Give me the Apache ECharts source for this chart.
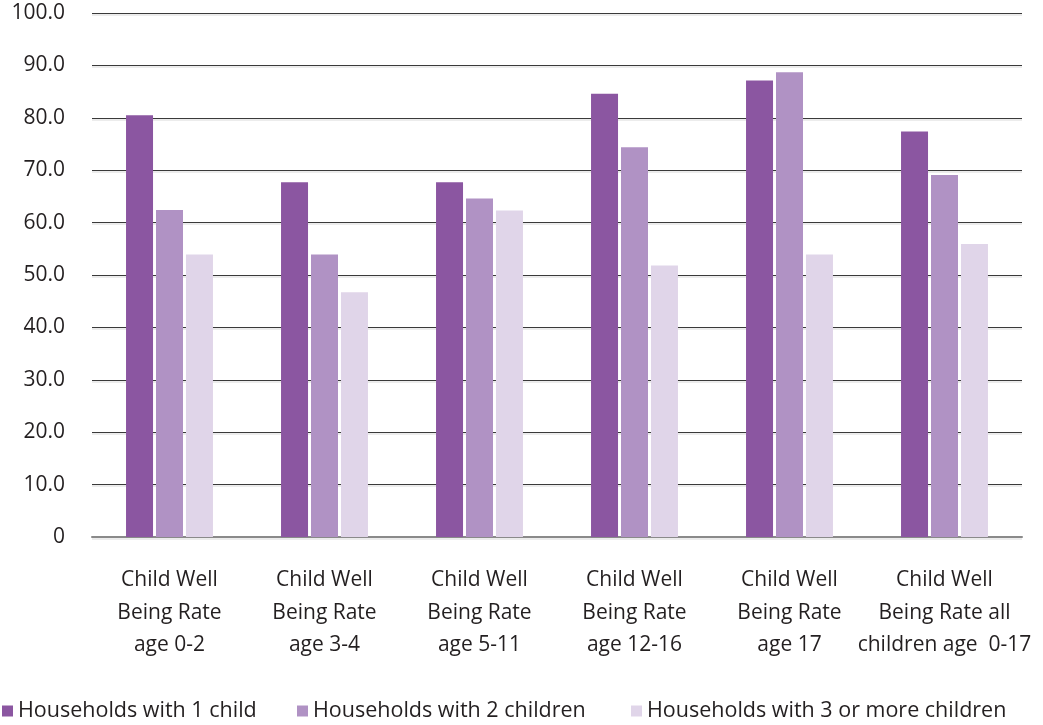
<!DOCTYPE html>
<html>
<head>
<meta charset="utf-8">
<title>Child Well Being Rate by household size</title>
<script src="https://cdn.jsdelivr.net/npm/echarts@6/dist/echarts.min.js"></script>
<style>
  html, body { margin: 0; padding: 0; background: #ffffff; }
  #chart { width: 1043px; height: 725px; }
</style>
</head>
<body>
<div id="chart"></div>
<script>
// Age groups shown along the x axis
const categories = [
  'Child Well\nBeing Rate\nage 0-2',
  'Child Well\nBeing Rate\nage 3-4',
  'Child Well\nBeing Rate\nage 5-11',
  'Child Well\nBeing Rate\nage 12-16',
  'Child Well\nBeing Rate\nage 17',
  'Child Well\nBeing Rate all\nchildren age  0-17'
];

// Series names
const seriesNames = [
  'Households with 1 child',
  'Households with 2 children',
  'Households with 3 or more children'
];

// Rates per household size (%)
const oneChild = [80.5, 67.7, 67.7, 84.6, 87.1, 77.4];
const twoChildren = [62.4, 53.9, 64.6, 74.4, 88.7, 69.1];
const threePlusChildren = [53.9, 46.7, 62.3, 51.8, 53.9, 55.9];

// Value axis tick labels, 0 to 100 in steps of 10
const yTickLabels = ['0', '10.0', '20.0', '30.0', '40.0', '50.0', '60.0', '70.0', '80.0', '90.0', '100.0'];

const colors = ['#8b56a1', '#b092c4', '#e0d5e9'];
const textColor = '#231f20';
const fontFamily = '"Open Sans", "Noto Sans", sans-serif';

const chart = echarts.init(document.getElementById('chart'), null, { renderer: 'canvas' });

function legendAt(name, left) {
  return {
    data: [name],
    left: left,
    top: 700,
    padding: 0,
    itemWidth: 11,
    itemHeight: 11,
    icon: 'rect',
    selectedMode: false,
    textStyle: { color: textColor, fontFamily: fontFamily, fontSize: 21.5, lineHeight: 22 }
  };
}

const seriesData = [oneChild, twoChildren, threePlusChildren];

chart.setOption({
  animation: false,
  color: colors,
  grid: { left: 92, right: 21, top: 13, bottom: 188, containLabel: false },
  legend: [
    legendAt(seriesNames[0], 2),
    legendAt(seriesNames[1], 297),
    legendAt(seriesNames[2], 631)
  ],
  xAxis: {
    type: 'category',
    data: categories,
    axisLine: { show: true, lineStyle: { color: '#8a8a8a', width: 2 } },
    axisTick: { show: false },
    axisLabel: {
      interval: 0,
      margin: 27,
      color: textColor,
      fontFamily: fontFamily,
      fontSize: 21,
      lineHeight: 32.5,
      align: 'center'
    }
  },
  yAxis: {
    type: 'value',
    min: 0,
    max: 100,
    interval: 10,
    axisLine: { show: false },
    axisTick: { show: false },
    axisLabel: {
      margin: 27,
      color: textColor,
      fontFamily: fontFamily,
      fontSize: 21,
      formatter: function (v) { return yTickLabels[Math.round(v / 10)]; }
    },
    splitLine: {
      show: true,
      lineStyle: {
        color: '#3a3a3a',
        width: 1,
        shadowColor: 'rgba(0,0,0,0.15)',
        shadowBlur: 0,
        shadowOffsetY: 1.5
      }
    }
  },
  series: seriesData.map(function (d, i) {
    return {
      name: seriesNames[i],
      type: 'bar',
      data: d,
      barWidth: 27,
      barGap: '11%',
      itemStyle: { color: colors[i] }
    };
  })
});
</script>
</body>
</html>
